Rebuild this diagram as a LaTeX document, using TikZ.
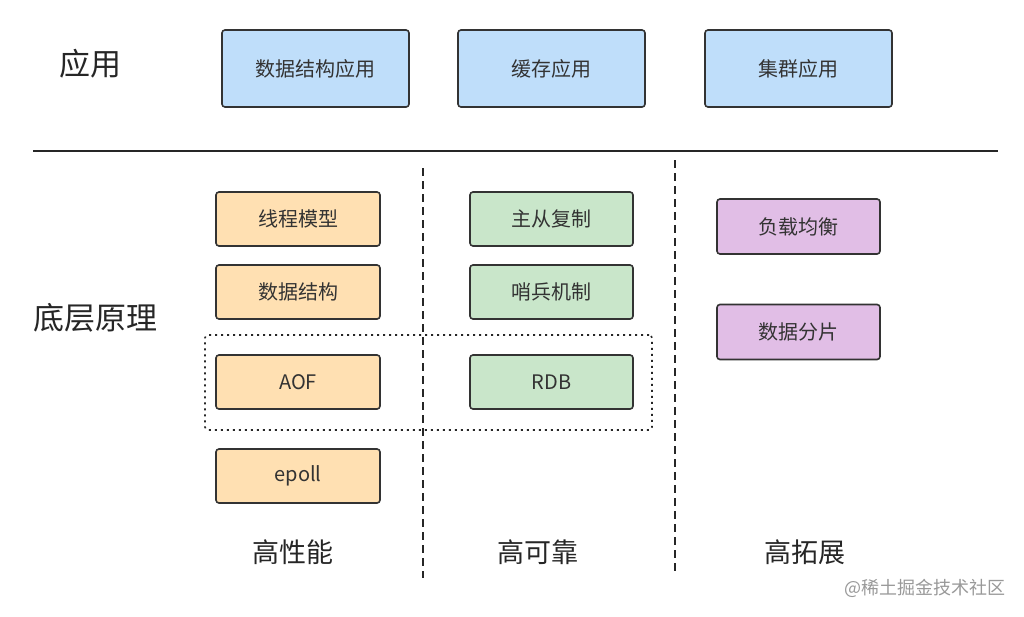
\documentclass[tikz,border=0pt]{standalone}
\usepackage{fontspec}
\setmainfont{Noto Sans CJK SC}
\begin{document}
\begin{tikzpicture}[x=1pt,y=-1pt,
  box/.style={draw=black!80, line width=1.6pt, rounded corners=3pt, inner sep=0pt, font=\fontsize{20}{22}\selectfont, text=black!80},
  bluebox/.style={box, fill={rgb,255:red,191;green,222;blue,250}},
  orbox/.style={box, fill={rgb,255:red,255;green,224;blue,178}},
  grbox/.style={box, fill={rgb,255:red,201;green,230;blue,202}},
  pubox/.style={box, fill={rgb,255:red,225;green,190;blue,230}},
  biglabel/.style={font=\fontsize{31}{33}\selectfont, text=black!85},
  sectlabel/.style={font=\fontsize{27}{29}\selectfont, text=black!85},
  divider/.style={draw=black!85, line width=1.6pt, dash pattern=on 8pt off 5pt},
]
\useasboundingbox[fill=white] (0,0) rectangle (1024,616);
% top application boxes
\node[bluebox, minimum width=187pt, minimum height=77pt] (dsapp) at (315.5,68.5) {数据结构应用};
\node[bluebox, minimum width=187pt, minimum height=77pt] (cacheapp) at (551.5,68.5) {缓存应用};
\node[bluebox, minimum width=187pt, minimum height=77pt] (clusterapp) at (798.5,68.5) {集群应用};
\node[biglabel] (applbl) at (90,64) {应用};
% separator
\coordinate (hl) at (33,151);
\coordinate (hr) at (998,151);
\draw[draw=black!85, line width=1.6pt] (hl) -- (hr);
% vertical dashed lines
\coordinate (v1t) at (423,168);
\coordinate (v1b) at (423,578);
\coordinate (v2t) at (675,160);
\coordinate (v2b) at (675,572);
\draw[divider] (v1t) -- (v1b);
\draw[divider] (v2t) -- (v2b);
% dotted group
\node[draw=black!85, line width=1.6pt, dash pattern=on 2pt off 4pt, rounded corners=3pt, minimum width=447pt, minimum height=95pt, inner sep=0pt] (grp) at (428.5,382.5) {};
% orange
\node[orbox, minimum width=164pt, minimum height=54pt] (thread) at (298,219) {线程模型};
\node[orbox, minimum width=164pt, minimum height=54pt] (ds) at (298,292) {数据结构};
\node[orbox, minimum width=164pt, minimum height=54pt] (aof) at (298,382) {AOF};
\node[orbox, minimum width=164pt, minimum height=54pt] (epoll) at (298,476) {epoll};
% green
\node[grbox, minimum width=163pt, minimum height=54pt] (repl) at (551.5,219) {主从复制};
\node[grbox, minimum width=163pt, minimum height=54pt] (sentinel) at (551.5,292) {哨兵机制};
\node[grbox, minimum width=163pt, minimum height=54pt] (rdb) at (551.5,382) {RDB};
% purple
\node[pubox, minimum width=163pt, minimum height=55pt] (lb) at (798.5,226.5) {负载均衡};
\node[pubox, minimum width=163pt, minimum height=55pt] (shard) at (798.5,332) {数据分片};
% labels
\node[biglabel] (base) at (95,318) {底层原理};
\node[sectlabel] (perf) at (293,552) {高性能};
\node[sectlabel] (rel) at (538,552) {高可靠};
\node[sectlabel] (ext) at (805,552) {高拓展};
\node[font=\fontsize{18}{20}\selectfont, text=black!40] (wm) at (925,588) {@稀土掘金技术社区};
\end{tikzpicture}
\end{document}
